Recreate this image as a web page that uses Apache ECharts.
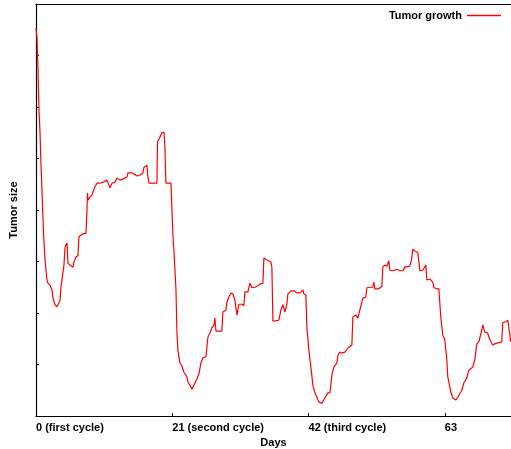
<!DOCTYPE html>
<html>
<head>
<meta charset="utf-8">
<script src="https://cdn.jsdelivr.net/npm/echarts@6/dist/echarts.min.js"></script>
<style>
  html, body { margin: 0; padding: 0; background: #fff; }
  #chart { width: 511px; height: 449px; }
</style>
</head>
<body>
<div id="chart"></div>
<script>
// Days since start of treatment
const days = [
  0, 0.15, 0.31, 0.46, 0.62, 0.77, 0.92, 1.08, 1.16, 1.39, 1.69, 1.85, 2.00, 2.16, 2.46, 2.62, 2.93, 3.23, 3.39, 3.70,
  3.85, 4.00, 4.16, 4.31, 4.47, 4.78, 4.93, 5.24, 5.70, 5.85, 6.16, 6.47, 6.62, 7.09, 7.70, 7.86, 7.93, 8.01, 8.32, 8.63,
  8.78, 9.09, 9.40, 9.86, 10.32, 10.94, 11.24, 11.40, 11.71, 12.17, 12.48, 12.94, 13.40, 14.02, 14.17, 14.79, 15.10, 15.56, 16.02, 16.48,
  16.64, 17.10, 17.25, 17.41, 18.02, 18.64, 18.72, 18.95, 19.25, 19.41, 19.72, 19.87, 20.02, 20.80, 20.95, 21.10, 21.26, 21.57, 21.72, 21.87,
  22.18, 22.49, 22.80, 22.95, 23.26, 23.41, 23.88, 24.03, 24.34, 24.80, 25.11, 25.42, 25.72, 26.19, 26.34, 26.49, 26.80, 27.11, 27.42, 27.57,
  27.73, 28.03, 28.65, 28.80, 29.27, 29.42, 29.73, 30.04, 30.35, 30.65, 30.96, 31.27, 31.73, 32.04, 32.19, 32.66, 32.96, 33.27, 33.73, 34.04,
  34.50, 34.97, 35.12, 35.58, 36.20, 36.35, 36.51, 36.81, 37.43, 37.74, 38.05, 38.36, 38.66, 38.82, 39.28, 39.74, 40.20, 40.67, 41.13, 41.28,
  41.59, 41.74, 42.05, 42.36, 42.67, 42.98, 43.28, 43.59, 44.06, 44.52, 44.98, 45.29, 45.44, 45.60, 45.90, 46.37, 46.52, 46.83, 47.14, 47.60,
  48.06, 48.68, 48.83, 49.30, 49.60, 49.91, 50.22, 50.37, 50.83, 50.99, 51.45, 51.91, 52.06, 52.22, 52.83, 53.30, 53.45, 53.76, 54.07, 54.37,
  54.53, 54.99, 55.61, 56.07, 56.53, 56.84, 57.61, 57.92, 58.07, 58.38, 58.84, 59.15, 59.61, 60.07, 60.23, 60.69, 61.15, 61.31, 61.77, 62.08,
  62.38, 62.69, 63.00, 63.31, 63.46, 63.92, 64.23, 64.70, 65.00, 65.62, 65.93, 66.39, 66.70, 67.31, 67.62, 67.93, 68.24, 68.70, 68.86, 69.16,
  69.62, 69.93, 70.39, 70.70, 71.16, 71.78, 71.93, 72.40, 72.71, 73.01, 73.17
];

// Tumor size (arbitrary units)
const tumorSize = [
  7.53, 7.34, 6.72, 5.94, 5.50, 4.87, 4.39, 3.81, 3.55, 3.03, 2.64, 2.58, 2.60, 2.54, 2.45, 2.29, 2.16, 2.12, 2.16, 2.25,
  2.52, 2.64, 2.62, 2.93, 3.28, 3.36, 2.97, 2.93, 2.89, 2.99, 3.09, 3.11, 3.48, 3.53, 3.55, 4.00, 4.33, 4.19, 4.25, 4.29,
  4.35, 4.45, 4.52, 4.52, 4.54, 4.58, 4.58, 4.43, 4.52, 4.54, 4.62, 4.58, 4.60, 4.64, 4.72, 4.72, 4.70, 4.66, 4.68, 4.72,
  4.83, 4.87, 4.64, 4.52, 4.52, 4.52, 5.32, 5.38, 5.36, 5.50, 5.51, 5.22, 4.52, 4.52, 4.00, 3.51, 3.22, 2.45, 1.61, 1.28,
  1.03, 0.97, 0.85, 0.83, 0.76, 0.66, 0.56, 0.52, 0.60, 0.72, 0.82, 1.03, 1.13, 1.15, 1.17, 1.53, 1.61, 1.71, 1.77, 1.90,
  1.65, 1.67, 1.65, 2.02, 2.06, 2.21, 2.31, 2.39, 2.37, 2.25, 1.96, 2.17, 2.17, 2.14, 2.41, 2.41, 2.58, 2.49, 2.50, 2.52,
  2.56, 2.58, 3.07, 3.03, 2.99, 2.89, 1.84, 1.84, 1.86, 2.06, 2.16, 2.02, 2.17, 2.37, 2.43, 2.43, 2.39, 2.39, 2.45, 2.37,
  2.35, 1.73, 1.28, 0.95, 0.60, 0.45, 0.37, 0.27, 0.25, 0.35, 0.45, 0.45, 0.60, 0.80, 0.95, 1.03, 1.18, 1.24, 1.22, 1.24,
  1.32, 1.38, 1.92, 1.96, 1.90, 2.06, 2.21, 2.29, 2.31, 2.49, 2.50, 2.50, 2.60, 2.47, 2.47, 2.52, 2.89, 2.93, 2.91, 3.01,
  2.83, 2.82, 2.85, 2.82, 2.82, 2.89, 2.91, 3.07, 3.24, 3.20, 3.18, 2.82, 2.83, 2.93, 2.64, 2.66, 2.60, 2.49, 2.47, 2.47,
  1.92, 1.57, 1.48, 1.09, 0.76, 0.47, 0.35, 0.31, 0.37, 0.50, 0.64, 0.74, 0.89, 0.95, 1.09, 1.40, 1.44, 1.67, 1.77, 1.63,
  1.61, 1.48, 1.38, 1.40, 1.42, 1.44, 1.81, 1.83, 1.86, 1.84, 1.44
];

// X axis tick labels
const tickDays = [0, 21, 42, 63];
const tickLabels = ['0 (first cycle)', '21 (second cycle)', '42 (third cycle)', '63'];

const seriesName = 'Tumor growth';
const xTitle = 'Days';
const yTitle = 'Tumor size';

const font = 'Liberation Sans, Arial, sans-serif';
const chart = echarts.init(document.getElementById('chart'), null, { renderer: 'canvas' });

chart.setOption({
  animation: false,
  backgroundColor: '#ffffff',
  grid: { left: 36, right: 0, top: 4, bottom: 33, containLabel: false, outerBoundsMode: 'none' },
  legend: {
    data: [seriesName],
    right: 10,
    top: 10,
    align: 'right',
    icon: 'rect',
    itemWidth: 34,
    itemHeight: 1.3,
    itemGap: 6,
    padding: 0,
    textStyle: { fontFamily: font, fontWeight: 'bold', fontSize: 11, color: '#000' }
  },
  xAxis: [
    {
      type: 'value',
      min: 0,
      max: 73.2,
      position: 'bottom',
      name: xTitle,
      nameLocation: 'middle',
      nameGap: 20,
      nameTextStyle: { fontFamily: font, fontWeight: 'bold', fontSize: 11, color: '#000' },
      axisLine: { show: true, lineStyle: { color: '#000', width: 1.2 } },
      axisTick: { show: true, inside: true, length: 3, customValues: tickDays, lineStyle: { color: '#000' } },
      axisLabel: {
        show: true,
        customValues: tickDays,
        align: 'left',
        margin: 6,
        fontFamily: font,
        fontWeight: 'bold',
        fontSize: 11,
        color: '#000',
        formatter: function (v) {
          const i = tickDays.indexOf(v);
          return i >= 0 ? tickLabels[i] : '';
        }
      },
      splitLine: { show: false }
    },
    {
      type: 'value',
      min: 0,
      max: 73.2,
      position: 'top',
      axisLine: { show: true, lineStyle: { color: '#000', width: 1.2 } },
      axisTick: { show: false },
      axisLabel: { show: false },
      splitLine: { show: false }
    }
  ],
  yAxis: {
    type: 'value',
    min: 0,
    max: 8,
    interval: 1,
    name: yTitle,
    nameLocation: 'middle',
    nameGap: 17,
    nameRotate: 90,
    nameTextStyle: { fontFamily: font, fontWeight: 'bold', fontSize: 11, color: '#000' },
    axisLine: { show: true, lineStyle: { color: '#000', width: 1.2 } },
    axisTick: { show: true, inside: true, length: 3, lineStyle: { color: '#000' } },
    axisLabel: { show: false },
    splitLine: { show: false }
  },
  series: [
    {
      name: seriesName,
      type: 'line',
      xAxisIndex: 0,
      data: days.map((d, i) => [d, tumorSize[i]]),
      symbol: 'none',
      showSymbol: false,
      lineStyle: { color: '#ff0000', width: 1.2 },
      itemStyle: { color: '#ff0000' },
      smooth: false
    }
  ]
});
</script>
</body>
</html>
